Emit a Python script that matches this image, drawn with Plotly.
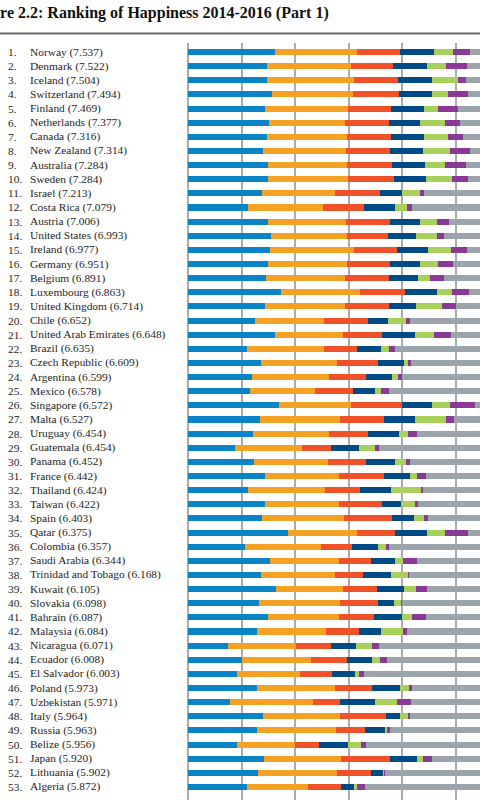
import plotly.graph_objects as go

countries = ["Norway", "Denmark", "Iceland", "Switzerland", "Finland", "Netherlands", "Canada",
             "New Zealand", "Australia", "Sweden", "Israel", "Costa Rica", "Austria", "United States",
             "Ireland", "Germany", "Belgium", "Luxembourg", "United Kingdom", "Chile",
             "United Arab Emirates", "Brazil", "Czech Republic", "Argentina", "Mexico", "Singapore",
             "Malta", "Uruguay", "Guatemala", "Panama", "France", "Thailand", "Taiwan", "Spain",
             "Qatar", "Colombia", "Saudi Arabia", "Trinidad and Tobago", "Kuwait", "Slovakia",
             "Bahrain", "Malaysia", "Nicaragua", "Ecuador", "El Salvador", "Poland", "Uzbekistan",
             "Italy", "Russia", "Belize", "Japan", "Lithuania", "Algeria"]
scores = ["7.537", "7.522", "7.504", "7.494", "7.469", "7.377", "7.316", "7.314", "7.284", "7.284",
          "7.213", "7.079", "7.006", "6.993", "6.977", "6.951", "6.891", "6.863", "6.714", "6.652",
          "6.648", "6.635", "6.609", "6.599", "6.578", "6.572", "6.527", "6.454", "6.454", "6.452",
          "6.442", "6.424", "6.422", "6.403", "6.375", "6.357", "6.344", "6.168", "6.105", "6.098",
          "6.087", "6.084", "6.071", "6.008", "6.003", "5.973", "5.971", "5.964", "5.963", "5.956",
          "5.920", "5.902", "5.872"]

gdp = [1.616, 1.482, 1.481, 1.565, 1.444, 1.504, 1.479, 1.406, 1.494, 1.484, 1.375, 1.110, 1.487,
       1.546, 1.536, 1.488, 1.464, 1.742, 1.442, 1.253, 1.626, 1.107, 1.353, 1.185, 1.153, 1.692,
       1.343, 1.218, 0.872, 1.234, 1.431, 1.128, 1.434, 1.384, 1.871, 1.071, 1.531, 1.361, 1.633,
       1.325, 1.488, 1.291, 0.737, 1.001, 0.910, 1.292, 0.786, 1.395, 1.286, 0.908, 1.417, 1.314,
       1.092]
social = [1.534, 1.551, 1.611, 1.517, 1.540, 1.429, 1.481, 1.548, 1.478, 1.510, 1.376, 1.416, 1.460,
          1.420, 1.558, 1.473, 1.462, 1.458, 1.496, 1.284, 1.266, 1.431, 1.434, 1.440, 1.211, 1.354,
          1.488, 1.412, 1.256, 1.373, 1.388, 1.426, 1.385, 1.532, 1.274, 1.402, 1.287, 1.380, 1.260,
          1.505, 1.323, 1.285, 1.287, 1.286, 1.182, 1.446, 1.549, 1.445, 1.469, 1.081, 1.436, 1.474,
          1.146]
health = [0.797, 0.793, 0.834, 0.858, 0.809, 0.811, 0.835, 0.817, 0.831, 0.844, 0.838, 0.760, 0.815,
          0.774, 0.810, 0.799, 0.818, 0.845, 0.805, 0.819, 0.727, 0.617, 0.754, 0.695, 0.710, 0.949,
          0.822, 0.719, 0.540, 0.706, 0.844, 0.647, 0.794, 0.889, 0.710, 0.595, 0.590, 0.520, 0.632,
          0.713, 0.653, 0.619, 0.653, 0.685, 0.596, 0.699, 0.498, 0.853, 0.547, 0.450, 0.913, 0.629,
          0.618]
freedom = [0.635, 0.626, 0.627, 0.620, 0.618, 0.585, 0.611, 0.614, 0.613, 0.602, 0.406, 0.580, 0.568,
           0.506, 0.573, 0.563, 0.540, 0.597, 0.508, 0.377, 0.608, 0.437, 0.491, 0.495, 0.413, 0.550,
           0.589, 0.579, 0.531, 0.550, 0.470, 0.580, 0.361, 0.409, 0.604, 0.477, 0.450, 0.519, 0.496,
           0.296, 0.537, 0.402, 0.448, 0.455, 0.432, 0.520, 0.658, 0.256, 0.374, 0.548, 0.506, 0.234,
           0.233]
generosity = [0.362, 0.355, 0.476, 0.291, 0.245, 0.470, 0.436, 0.500, 0.385, 0.478, 0.330, 0.215,
              0.316, 0.393, 0.428, 0.336, 0.232, 0.283, 0.493, 0.327, 0.361, 0.162, 0.088, 0.109,
              0.121, 0.346, 0.575, 0.175, 0.283, 0.211, 0.130, 0.572, 0.258, 0.190, 0.330, 0.149,
              0.148, 0.325, 0.228, 0.137, 0.173, 0.417, 0.302, 0.150, 0.078, 0.159, 0.416, 0.173,
              0.052, 0.240, 0.121, 0.010, 0.069]
corruption = [0.316, 0.401, 0.154, 0.367, 0.383, 0.283, 0.287, 0.383, 0.384, 0.301, 0.085, 0.100,
              0.221, 0.136, 0.298, 0.277, 0.251, 0.319, 0.265, 0.082, 0.324, 0.111, 0.037, 0.060,
              0.133, 0.464, 0.153, 0.178, 0.077, 0.071, 0.173, 0.032, 0.064, 0.071, 0.439, 0.047,
              0.273, 0.009, 0.215, 0.024, 0.257, 0.066, 0.130, 0.140, 0.090, 0.059, 0.247, 0.028,
              0.033, 0.097, 0.164, 0.012, 0.146]
dystopia = [2.277, 2.314, 2.323, 2.277, 2.430, 2.295, 2.187, 2.046, 2.098, 2.065, 2.802, 2.899, 2.139,
            2.218, 1.774, 2.016, 2.124, 1.620, 1.704, 2.510, 1.735, 2.769, 2.452, 2.614, 2.837, 1.216,
            1.557, 2.172, 2.894, 2.307, 2.006, 2.040, 2.127, 1.928, 1.145, 2.616, 2.066, 2.053, 1.640,
            2.098, 1.656, 2.005, 2.514, 2.290, 2.715, 1.798, 1.817, 1.814, 2.201, 2.632, 1.364, 2.229,
            2.568]

series_names = ["Explained by: GDP per capita", "Explained by: social support",
                "Explained by: healthy life expectancy", "Explained by: freedom to make life choices",
                "Explained by: generosity", "Explained by: perceptions of corruption",
                "Dystopia (1.85) + residual"]
series_values = [gdp, social, health, freedom, generosity, corruption, dystopia]
series_colors = ["#0a84c6", "#f4a124", "#f05128", "#004b86", "#a8d05a", "#8b3996", "#9ba4aa"]

title_text = "Figure 2.2: Ranking of Happiness 2014-2016 (Part 1)"

ranks = list(range(1, len(countries) + 1))

W, H = 480, 800
L, T = 188, 43
PW = W - L
PH = H - T
unit_px = 53.6

fig = go.Figure()
for name, vals, col in zip(series_names, series_values, series_colors):
    fig.add_trace(go.Bar(
        x=vals, y=ranks, orientation="h", name=name,
        marker=dict(color=col, line=dict(width=0)),
        width=0.43, hoverinfo="x+name",
    ))

def px_x(p):
    return (p - L) / PW

def px_y(p):
    return 1 + (T - p) / PH

annotations = []
lab_font = dict(family="Liberation Serif, DejaVu Serif, serif", size=11.4, color="#1e1e1e")
for r, c, s in zip(ranks, countries, scores):
    annotations.append(dict(xref="paper", yref="y", x=px_x(6), y=r, text=f"{r}.",
                            xanchor="left", yanchor="middle", showarrow=False, font=lab_font))
    annotations.append(dict(xref="paper", yref="y", x=px_x(28), y=r, text=f"{c} ({s})",
                            xanchor="left", yanchor="middle", showarrow=False, font=lab_font))

annotations.append(dict(xref="paper", yref="paper", x=px_x(331), y=px_y(13), text=f"<b>{title_text}</b>",
                        xanchor="right", yanchor="middle", showarrow=False,
                        font=dict(family="Liberation Serif, DejaVu Serif, serif", size=16, color="#111111")))

y_top = 1 - (52 - T) / 14.134
y_bot = 1 + (H - 52) / 14.134

fig.update_layout(
    width=W, height=H,
    margin=dict(l=L, r=0, t=T, b=0, pad=0),
    barmode="stack",
    bargap=0,
    showlegend=False,
    plot_bgcolor="white",
    paper_bgcolor="white",
    annotations=annotations,
    shapes=[dict(type="line", xref="paper", yref="paper", x0=px_x(0), x1=px_x(W),
                 y0=px_y(33.5), y1=px_y(33.5), line=dict(color="#6a6a6a", width=2))],
    xaxis=dict(range=[0, PW / unit_px], dtick=1, tick0=0, showgrid=True, gridcolor="#ababab",
               gridwidth=1.5, zeroline=True, zerolinecolor="#ababab", zerolinewidth=1.5,
               showticklabels=False, ticks="", showline=False, fixedrange=True),
    yaxis=dict(range=[y_bot, y_top], showgrid=False, zeroline=False, showticklabels=False,
               ticks="", showline=False, fixedrange=True),
)

fig.write_html("out.html", config={"displayModeBar": False},
               post_script="document.body.style.margin='0';document.body.style.padding='0';document.body.style.overflow='hidden';")
